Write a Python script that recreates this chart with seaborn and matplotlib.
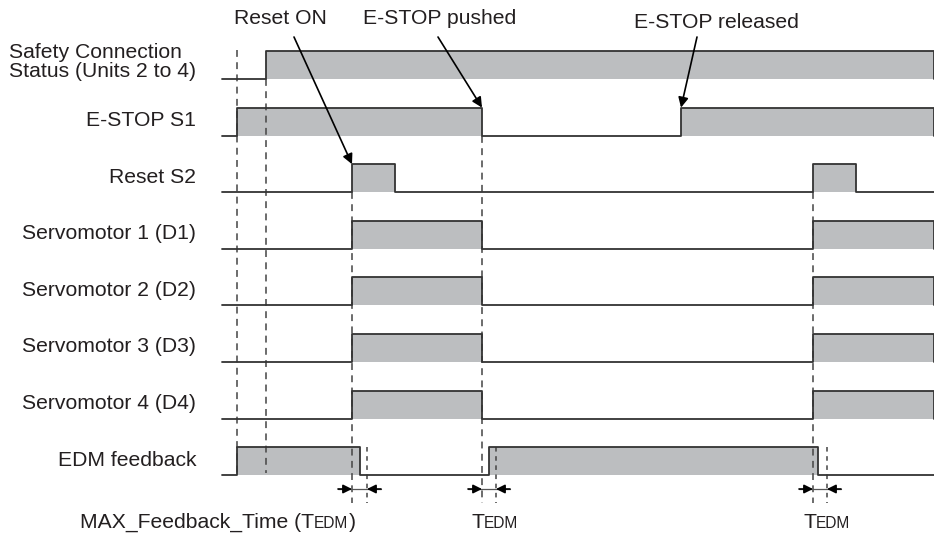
import matplotlib
matplotlib.use("Agg")
import matplotlib.pyplot as plt
import seaborn as sns
import pandas as pd

# ---------------- data (time axis in drawing units) ----------------
signal_names = [
    "Safety Connection\nStatus (Units 2 to 4)",
    "E-STOP S1",
    "Reset S2",
    "Servomotor 1 (D1)",
    "Servomotor 2 (D2)",
    "Servomotor 3 (D3)",
    "Servomotor 4 (D4)",
    "EDM feedback",
]
on_starts = [
    [266],
    [237, 681],
    [352, 813],
    [352, 813],
    [352, 813],
    [352, 813],
    [352, 813],
    [237, 489],
]
on_ends = [
    [934],
    [482, 934],
    [395, 856],
    [482, 934],
    [482, 934],
    [482, 934],
    [482, 934],
    [360, 818],
]
t_start, t_end = 222, 934

# event markers (dashed guides)
guide_times = [237, 266, 352, 482, 813]
guide_from_row = [None, 0, 2, 1, 2]          # row whose baseline the guide starts from (None = top)
edm_limit_times = [367, 496, 827]            # end of MAX feedback window
tedm_pairs = list(zip([352, 482, 813], edm_limit_times))

events = ["Reset ON", "E-STOP pushed", "E-STOP released"]
event_text_x = [280, 440, 716]
event_arrow_from = [294, 438, 697]
event_target = [(352, 2), (482, 1), (681, 1)]

# ---------------- layout ----------------
W, H = 934, 540
row0, row_gap, pulse_h = 79, 56.6, 28
FS = 15.2
FS_SMALL = 11.2
FILL = "#bcbec0"
EDGE = "#333333"
TXT = "#231f20"

sns.set_theme(style="white")
plt.rcParams["font.family"] = ["Liberation Sans", "DejaVu Sans"]

fig = plt.figure(figsize=(W / 100, H / 100), dpi=100)
ax = fig.add_axes([0, 0, 1, 1])

def base_y(i):
    return row0 + row_gap * i

# waveform table
rows = []
for i, name in enumerate(signal_names):
    b = base_y(i)
    top = b - pulse_h
    pts = [(t_start, b)]
    for s, e in zip(on_starts[i], on_ends[i]):
        pts += [(s, b), (s, top), (e, top), (e, b)]
    pts.append((t_end, b))
    for k, (t, y) in enumerate(pts):
        rows.append({"signal": name, "order": k, "t": t, "y": y})
wave = pd.DataFrame(rows)

# fills
for i, name in enumerate(signal_names):
    b = base_y(i)
    for s, e in zip(on_starts[i], on_ends[i]):
        ax.fill_between([s, e], [b, b], [b - pulse_h, b - pulse_h], color=FILL, lw=0, zorder=1)

# dashed guides
for t, r in zip(guide_times, guide_from_row):
    y0 = 50 if r is None else base_y(r)
    y1 = 473 if t < 300 else 503
    ax.plot([t, t], [y0, y1], ls=(0, (4.5, 3.5)), color="#444444", lw=1.1, zorder=2)
for t in edm_limit_times:
    ax.plot([t, t], [base_y(7) - pulse_h, 503], ls=(0, (3, 3)), color="#444444", lw=1.1, zorder=2)

# waveforms
sns.lineplot(data=wave, x="t", y="y", units="signal", estimator=None, sort=False,
             color=EDGE, lw=1.3, ax=ax, legend=False, zorder=3)
ax.set_xlim(0, W)
ax.set_ylim(H, 0)
ax.axis("off")

# signal labels
for i, name in enumerate(signal_names):
    b = base_y(i)
    if "\n" in name:
        ax.text(9, b - 17, name, ha="left", va="center", fontsize=FS, color=TXT,
                linespacing=1.02)
    else:
        ax.text(196, b - 15, name, ha="right", va="center", fontsize=FS, color=TXT)

# event annotations
for lab, tx, ax0, (tt, r) in zip(events, event_text_x, event_arrow_from, event_target):
    ty = 22 if "released" in lab else 19
    ax.text(tx, ty, lab, ha="center", va="center", fontsize=FS, color=TXT)
    ax.annotate("", xy=(tt, base_y(r) - pulse_h), xytext=(ax0, 37),
                arrowprops=dict(arrowstyle="-|>", color="black", lw=1.2, mutation_scale=15,
                                shrinkA=0, shrinkB=0))

# TEDM arrows
ay = 489
for a, b in tedm_pairs:
    ax.plot([a - 14, b + 14], [ay, ay], color="#555555", lw=0.9)
    ax.annotate("", xy=(a, ay), xytext=(a - 14, ay),
                arrowprops=dict(arrowstyle="-|>", color="black", lw=1.2, mutation_scale=13,
                                shrinkA=0, shrinkB=0))
    ax.annotate("", xy=(b, ay), xytext=(b + 14, ay),
                arrowprops=dict(arrowstyle="-|>", color="black", lw=1.2, mutation_scale=13,
                                shrinkA=0, shrinkB=0))

# TEDM labels (small-caps style)
fig.canvas.draw()
renderer = fig.canvas.get_renderer()

def tedm_label(x, y, prefix="", suffix=""):
    pieces = [(prefix + "T", FS), ("EDM", FS_SMALL), (suffix, FS)]
    cx = x
    for txt, size in pieces:
        if not txt:
            continue
        t = ax.text(cx, y, txt, ha="left", va="baseline", fontsize=size, color=TXT)
        bb = t.get_window_extent(renderer)
        cx = ax.transData.inverted().transform((bb.x1, bb.y0))[0]

tedm_label(80, 528, prefix="MAX_Feedback_Time (", suffix=")")
tedm_label(471, 528)
tedm_label(803, 528)

fig.savefig("out.png", dpi=100)
